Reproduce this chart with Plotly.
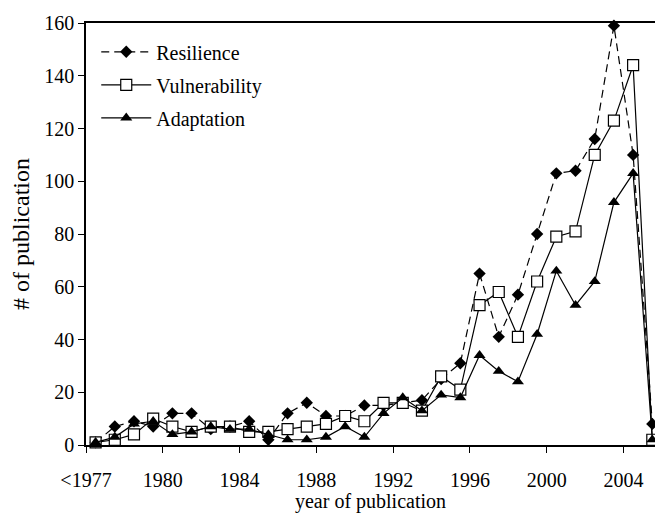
import plotly.graph_objects as go

categories = ["<1977"] + [str(y) for y in range(1977, 2006)]
tick_labels = ["<1977", "1980", "1984", "1988", "1992", "1996", "2000", "2004"]

resilience = [1, 7, 9, 7, 12, 12, 6, 7, 9, 2, 12, 16, 11, 11, 15, 15, 16, 17, 25, 31,
              65, 41, 57, 80, 103, 104, 116, 159, 110, 8]
vulnerability = [1, 2, 4, 10, 7, 5, 7, 7, 5, 5, 6, 7, 8, 11, 9, 16, 16, 13, 26, 21,
                 53, 58, 41, 62, 79, 81, 110, 123, 144, 2]
adaptation = [1, 3, 8, 9, 4, 5, 7, 6, 6, 4, 2, 2, 3, 7, 3, 12, 18, 13, 19, 18,
              34, 28, 24, 42, 66, 53, 62, 92, 103, 2]

idx = list(range(len(categories)))
tick_pos = [categories.index(t) - 0.5 for t in tick_labels]

FONT = "Liberation Serif, Times New Roman, serif"

fig = go.Figure()
fig.add_trace(go.Scatter(
    x=idx, y=resilience, name="Resilience", mode="lines+markers",
    legendgroup="r", customdata=categories,
    line=dict(color="black", width=1.2, dash="8px,5px"),
    marker=dict(symbol="diamond", size=9.5, color="black", line=dict(width=0)),
    cliponaxis=False))
fig.add_trace(go.Scatter(
    x=idx, y=vulnerability, name="Vulnerability", mode="lines+markers",
    legendgroup="v", customdata=categories,
    line=dict(color="black", width=1.2),
    marker=dict(symbol="square", size=11, color="white", line=dict(width=1.2, color="black")),
    cliponaxis=False))
fig.add_trace(go.Scatter(
    x=idx, y=adaptation, name="Adaptation", mode="lines+markers",
    legendgroup="a", customdata=categories,
    line=dict(color="black", width=1.2),
    marker=dict(symbol="triangle-up", size=10.5, color="black", line=dict(width=0)),
    cliponaxis=False))

fig.update_layout(
    width=655, height=513,
    margin=dict(l=86, r=0, t=23, b=68),
    paper_bgcolor="white", plot_bgcolor="white",
    font=dict(family=FONT, size=20, color="black"),
    showlegend=True,
    legend=dict(x=0.018, y=0.978, xanchor="left", yanchor="top",
                bgcolor="rgba(0,0,0,0)", font=dict(size=20), itemwidth=50,
                traceorder="grouped", tracegroupgap=4),
    xaxis=dict(range=[-0.5, 29.14], tickmode="array", tickvals=tick_pos, ticktext=tick_labels,
               showline=True, linecolor="black", linewidth=1.5, mirror=True, automargin=False,
               ticks="outside", ticklen=6, tickcolor="black", showgrid=False, zeroline=False,
               ticklabelstandoff=10,
               title=dict(text="year of publication", standoff=3, font=dict(size=20))),
    yaxis=dict(range=[0, 160], dtick=20, showline=True, linecolor="black", linewidth=1.5,
               automargin=False,
               ticks="outside", ticklen=6, tickcolor="black", showgrid=False, zeroline=False,
               title=dict(text="# of publication", standoff=8)),
)

fig.write_html("out.html", post_script="document.body.style.margin='0';",
               config={"displayModeBar": False})
